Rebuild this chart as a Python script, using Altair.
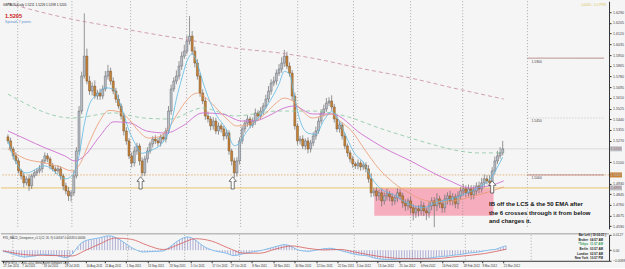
import json
import altair as alt
import pandas as pd

# ---------------- data (prices in 1/10000 units) ----------------
closes = [
    15268, 15204, 15149, 15109, 15030, 14990, 14935, 14967, 14911, 14990,
    15014, 15030, 15046, 15109, 15149, 15125, 15070, 15046, 15030, 15046,
    14990, 14911, 14871, 14832, 14856, 14990, 15188, 15505, 15783, 15941,
    15743, 15664, 15703, 15624, 15648, 15624, 15680, 15783, 15822, 15743,
    15664, 15600, 15545, 15466, 15347, 15268, 15149, 15093, 15188, 15228,
    15109, 15014, 15125, 15188, 15244, 15283, 15268, 15252, 15299, 15283,
    15347, 15505, 15680, 15743, 15783, 15862, 15941, 15981, 16060, 16100,
    15981, 15886, 15783, 15648, 15585, 15466, 15442, 15387, 15426, 15347,
    15387, 15363, 15307, 15331, 15188, 15109, 15014, 15109, 15268, 15363,
    15410, 15442, 15394, 15426, 15490, 15466, 15505, 15545, 15600, 15664,
    15727, 15743, 15806, 15838, 15886, 15941, 15862, 15806, 15624, 15387,
    15268, 15283, 15228, 15268, 15204, 15252, 15307, 15347, 15426, 15490,
    15521, 15569, 15585, 15537, 15442, 15363, 15394, 15307, 15228, 15173,
    15125, 15085, 15070, 15093, 15062, 15077, 15046, 14967, 14856, 14871,
    14832, 14856, 14792, 14832, 14848, 14824, 14792, 14816, 14856, 14832,
    14776, 14753, 14792, 14737, 14697, 14729, 14713, 14753, 14713, 14697,
    14753, 14792, 14753, 14808, 14769, 14737, 14808, 14832, 14792, 14824,
    14769, 14832, 14871, 14887, 14856, 14887, 14840, 14871, 14911, 14887,
    14935, 14967, 14951, 14935, 15030, 15109, 15149, 15173, 15205,
]
first_open = 15300
up_wick = [
    20, 25, 18, 30, 22, 15, 28, 20, 35, 18,
    25, 20, 30, 15, 28, 22, 18, 25, 20, 30,
    22, 18, 25, 30, 20, 45, 30, 40, 35, 340,
    60, 40, 30, 45, 25, 35, 30, 40, 50, 28,
    30, 25, 35, 20, 25, 30, 22, 28, 35, 25,
    20, 28, 25, 30, 18, 22, 30, 25, 20, 28,
    25, 40, 35, 30, 45, 40, 35, 50, 45, 160,
    40, 35, 30, 25, 30, 28, 35, 22, 30, 25,
    28, 20, 25, 30, 22, 18, 25, 30, 28, 22,
    25, 30, 20, 28, 35, 22, 30, 25, 35, 40,
    30, 35, 28, 40, 45, 50, 35, 30, 25, 28,
    22, 25, 30, 20, 28, 25, 30, 35, 28, 30,
    35, 40, 30, 45, 25, 30, 28, 22, 25, 20,
    22, 25, 18, 28, 20, 25, 22, 30, 45, 25,
    30, 25, 35, 28, 40, 22, 30, 25, 35, 28,
    25, 30, 22, 35, 28, 25, 30, 40, 28, 25,
    35, 28, 30, 45, 25, 30, 35, 28, 40, 30,
    25, 35, 30, 40, 28, 35, 30, 45, 28, 35,
    40, 35, 30, 45, 30, 35, 40, 45, 63,
]
down_wick = [
    22, 18, 30, 25, 20, 28, 35, 22, 40, 25,
    18, 25, 20, 30, 22, 25, 28, 20, 25, 22,
    30, 35, 28, 40, 45, 25, 20, 30, 25, 20,
    25, 30, 35, 22, 28, 30, 25, 20, 28, 30,
    25, 30, 22, 28, 35, 30, 25, 35, 28, 30,
    35, 28, 25, 30, 22, 28, 25, 30, 28, 22,
    28, 25, 30, 22, 25, 28, 30, 22, 25, 28,
    30, 35, 28, 30, 25, 30, 28, 35, 30, 25,
    30, 28, 35, 25, 30, 35, 40, 30, 28, 25,
    28, 30, 25, 22, 30, 28, 25, 30, 22, 25,
    28, 25, 30, 22, 28, 30, 25, 28, 35, 30,
    30, 28, 25, 30, 35, 28, 25, 30, 22, 25,
    28, 22, 25, 30, 28, 25, 30, 28, 25, 30,
    28, 30, 25, 28, 30, 25, 28, 30, 35, 30,
    40, 35, 45, 30, 38, 35, 40, 30, 35, 32,
    38, 40, 35, 45, 60, 40, 45, 38, 42, 58,
    40, 35, 170, 42, 35, 40, 38, 45, 35, 38,
    35, 40, 32, 38, 35, 30, 38, 35, 30, 35,
    30, 35, 28, 30, 25, 28, 25, 22, 20,
]

# moving averages (bar index, price)
ema_fast_bar = [0, 2, 7, 14, 22, 25, 27, 29, 31, 34, 37, 40, 42, 44, 46, 48, 51, 54, 59, 62,
                64, 66, 68, 70, 72, 74, 76, 79, 83, 86, 88, 90, 93, 96, 100, 103, 105, 107, 109, 111,
                114, 117, 120, 123, 126, 129, 132, 135, 138, 141, 147, 152, 158, 163, 169, 175, 179, 183, 186, 188]
ema_fast_val = [15268, 15149, 15014, 15070, 14967, 15010, 15150, 15400, 15560, 15640,
                15690, 15680, 15600, 15480, 15350, 15260, 15170, 15190, 15260, 15400,
                15600, 15760, 15900, 15960, 15880, 15740, 15620, 15480, 15360, 15230,
                15250, 15320, 15400, 15470, 15600, 15720, 15820, 15800, 15600, 15430,
                15330, 15320, 15430, 15500, 15420, 15280, 15160, 15100, 14980, 14900,
                14835, 14770, 14740, 14780, 14810, 14860, 14900, 14960, 15060, 15140]
ema_mid_bar = [0, 6.7, 14.2, 19.8, 24.3, 27.2, 31, 34.7, 38.4, 42.2, 45.9, 49.6, 53.4, 57.1, 60.8,
               64.6, 68.3, 72, 75.7, 79.5, 83.2, 86.9, 90.7, 94.4, 98.1, 101.9, 104.9, 108.2, 111.9,
               115.7, 119.4, 123.1, 126.1, 130.6, 135.4, 141, 146.6, 152.2, 157.8, 163.4, 169, 174.6,
               180.2, 184, 188.4]
ema_mid_val = [15204, 15125, 15093, 15062, 15030, 15080, 15260, 15420, 15510, 15500,
               15442, 15347, 15291, 15299, 15363, 15490, 15600, 15648, 15600, 15521,
               15442, 15387, 15394, 15426, 15490, 15569, 15608, 15585, 15505, 15450,
               15466, 15482, 15426, 15347, 15204, 15046, 14935, 14856, 14800, 14784,
               14792, 14816, 14848, 14871, 14903]
ema50_bar = [0, 6.7, 14.2, 21.6, 25.4, 29.1, 34.7, 40.3, 46.6, 52.6, 60.1, 66.4, 73.9, 81.3, 88.8,
             93.7, 98.9, 104.9, 108.6, 115.7, 123.1, 134.3, 142.9, 153, 161.6, 167.9, 175.4, 182.8, 188.4]
ema50_val = [15347, 15283, 15212, 15149, 15109, 15150, 15300, 15420, 15410, 15347,
             15331, 15387, 15490, 15482, 15426, 15426, 15466, 15529, 15545, 15482,
             15482, 15323, 15212, 15109, 15014, 14951, 14895, 14911, 14951]
ma100_bar = [0, 24.3, 40.3, 51.5, 61.6, 73.9, 86.2, 102.6, 115.7, 128, 141, 153, 163.4, 171.6, 178.4, 185.8, 188.4]
ma100_val = [15640, 15450, 15490, 15450, 15442, 15529, 15466, 15505, 15505, 15466,
             15371, 15291, 15228, 15188, 15173, 15173, 15180]
ma200_bar = [0, 14.2, 24.3, 36.6, 48.9, 69, 86.2, 103.7, 115.7, 133.6, 153, 170.9, 188.4]
ma200_val = [16361, 16282, 16234, 16187, 16139, 16068, 16005, 15965, 15925, 15846, 15767, 15680, 15600]

# MACD (1/10000 units)
macd_hist = [
    -10, -15, -20, -28, -35, -42, -50, -52, -58, -55, -52, -50, -48, -42, -36, -34, -36, -38, -40, -40,
    -44, -50, -56, -62, -63,
    -50, -30, 0, 30, 55, 70, 80, 86, 90, 94, 98, 102, 108, 114, 118, 118, 114, 106, 95, 82, 68, 52, 36, 22, 10, 0,
    -10, -15, -14, -14, -12, -11, -10, -10, -8, -6,
    5, 20, 38, 55, 72, 86, 98, 106, 110, 106, 96, 82, 66, 48, 32,
    20, 10, 2, -5, -10, -14, -18, -22, -30, -38, -45, -44, -40, -34, -28,
    -24, -20, -16, -12, -8, -4, 0, 6, 12, 18,
    24, 30, 36, 42, 46, 44, 38, 28, 16, 5,
    -2, -6, -8, -10, -8, -4, 0, 4, 8, 12, 14, 16, 14, 10, 4,
    -2, -8, -14, -20, -26, -32, -36, -40, -42, -44, -46, -52, -60, -66, -70,
    -74, -76, -78, -78, -78, -77, -76, -74, -72, -72, -72, -72, -71, -72, -72, -72, -70, -68, -66, -64,
    -60, -58, -55, -52, -50, -50, -46, -43, -40, -38, -36, -32, -28, -24, -22, -20, -18, -14, -10, -6,
    -2, 2, 4, 6, 14, 22, 30, 36,
]
signal_bar = [0, 10, 20, 26, 30, 36, 42, 48, 54, 60, 66, 72, 78, 84, 90, 96, 102, 108, 114, 120,
              126, 132, 140, 150, 160, 170, 180, 188]
signal_val = [-5, -40, -45, -48, -10, 50, 100, 90, 40, 5, 50, 95, 75, 20, -25, -25, 10, 35, 15, 2,
              6, -18, -50, -70, -72, -52, -28, 8]

# annotations / levels
month_sep_bars = [3.7, 24.3, 46.6, 67.9, 88.4, 110.1, 131.3, 153.0, 172.8, 197.4]
arrow_bars = [50.4, 85.4, 184.0]
arrow_prices = [14935, 14935, 14903]
zone_bar = [139.2, 184.5]
zone_price = [14895, 14673]
full_lines = [14998, 14895]
round_levels = [15925, 15450, 14998]
round_labels = ["1.5900", "1.5450", "1.5000"]
price_ticks = [1.6290, 1.6205, 1.6120, 1.6035, 1.5950, 1.5865, 1.5780, 1.5695, 1.5610, 1.5525,
               1.5440, 1.5355, 1.5270, 1.5100, 1.4930, 1.4845, 1.4760, 1.4675, 1.4590]
macd_ticks = [0.0127, 0.0, -0.0088]
date_bars = [0, 7, 15, 23, 31, 38, 46, 54, 62, 70, 78, 85, 93, 101, 109, 117, 125, 132, 140, 148,
             156, 164, 172, 179, 187]
date_labels = ["27 Jun 2011", "7 Jul 2011", "19 Jul 2011", "29 Jul 2011", "10 Aug 2011", "22 Aug 2011",
               "1 Sep 2011", "13 Sep 2011", "23 Sep 2011", "5 Oct 2011", "17 Oct 2011", "27 Oct 2011",
               "8 Nov 2011", "18 Nov 2011", "30 Nov 2011", "12 Dec 2011", "22 Dec 2011", "3 Jan 2012",
               "13 Jan 2012", "25 Jan 2012", "6 Feb 2012", "16 Feb 2012", "28 Feb 2012", "9 Mar 2012",
               "21 Mar 2012"]
note_lines = ["IB off the LCS & the 50 EMA after", "the 6 crosses through it from below", "and charges it."]
note_prices = [14769, 14697, 14634]
clock_names = ["Broker", "*Tokyo", "Berlin", "London", "New York"]
clock_times = ["04:57 AM", "11:57 AM", "03:57 AM", "02:57 AM", "10:57 PM"]

# ---------------- frames ----------------
P = 10000.0
opens = [first_open] + closes[:-1]
cdf = pd.DataFrame({
    "bar": list(range(len(closes))),
    "open": [o / P for o in opens],
    "close": [c / P for c in closes],
    "high": [(max(o, c) + u) / P for o, c, u in zip(opens, closes, up_wick)],
    "low": [(min(o, c) - d) / P for o, c, d in zip(opens, closes, down_wick)],
    "dir": ["up" if c >= o else "down" for o, c in zip(opens, closes)],
})

def line_df(b, v):
    return pd.DataFrame({"bar": b, "p": [x / P for x in v]})

W, HP, HM = 609, 228, 26
XMAX = 226.5
xs = alt.Scale(domain=[-0.75, XMAX], nice=False, zero=False)
ys = alt.Scale(domain=[1.4570, 1.6377], nice=False, zero=False)

price_axis = alt.Axis(orient="right", values=price_ticks, format=".4f", title=None, labelFontSize=3.6,
                      labelColor="#444", tickSize=2, tickColor="#333", domainColor="#333",
                      labelPadding=1.5, labelOverlap=False, grid=False, labelFlush=False)

X = lambda f: alt.X(f, type="quantitative", scale=xs, axis=None, title=None)
Y = lambda f: alt.Y(f, type="quantitative", scale=ys, axis=price_axis, title=None)

zone = alt.Chart(pd.DataFrame({"b1": [zone_bar[0]], "b2": [zone_bar[1]],
                               "p1": [zone_price[0] / P], "p2": [zone_price[1] / P]})).mark_rect(
    color="#f6a6b8", opacity=0.9).encode(x=X("b1"), x2="b2", y=Y("p1"), y2="p2")

seps = alt.Chart(pd.DataFrame({"bar": month_sep_bars})).mark_rule(
    color="#8a8a8a", strokeWidth=0.7, strokeDash=[1, 2]).encode(x=X("bar"))

hline1 = alt.Chart(pd.DataFrame({"p": [full_lines[0] / P]})).mark_rule(
    color="#e3a45a", strokeWidth=0.8, strokeDash=[1.5, 1.5]).encode(y=Y("p"))
hline2 = alt.Chart(pd.DataFrame({"p": [full_lines[1] / P]})).mark_rule(
    color="#e9c46a", strokeWidth=1).encode(y=Y("p"))
cur_line = alt.Chart(pd.DataFrame({"p": [closes[-1] / P]})).mark_rule(
    color="#c8c8c8", strokeWidth=0.6).encode(y=Y("p"))

rl = pd.DataFrame({"b1": [month_sep_bars[-1]] * 3, "b2": [XMAX] * 3,
                   "p": [v / P for v in round_levels], "lab": round_labels, "kind": ["a", "b", "a"]})
round_rules = alt.Chart(rl).mark_rule(strokeWidth=0.8).encode(
    x=X("b1"), x2="b2", y=Y("p"),
    color=alt.Color("kind:N", scale=alt.Scale(domain=["a", "b"], range=["#a86a6a", "#b8b8b8"]), legend=None),
    strokeDash=alt.StrokeDash("kind:N", scale=alt.Scale(domain=["a", "b"], range=[[1, 0], [1, 2]]), legend=None))
round_text = alt.Chart(rl).mark_text(fontSize=3.4, color="#444", align="left", baseline="top", dy=1.5, dx=4).encode(
    x=X("b1"), y=Y("p"), text="lab:N")

wick = alt.Chart(cdf).mark_rule(color="#6a6a6a", strokeWidth=0.7).encode(x=X("bar"), y=Y("low"), y2="high")
body = alt.Chart(cdf).mark_bar(size=2.0, strokeWidth=0.45).encode(
    x=X("bar"), y=Y("open"), y2="close",
    fill=alt.Fill("dir:N", scale=alt.Scale(domain=["up", "down"], range=["#bcc0c7", "#c8843a"]), legend=None),
    stroke=alt.Stroke("dir:N", scale=alt.Scale(domain=["up", "down"], range=["#555a62", "#6e4a22"]), legend=None))

def ma(b, v, color, dash=None, w=0.8):
    kw = dict(color=color, strokeWidth=w, interpolate="monotone")
    if dash:
        kw["strokeDash"] = dash
    return alt.Chart(line_df(b, v)).mark_line(**kw).encode(x=X("bar"), y=Y("p"))

l200 = ma(ma200_bar, ma200_val, "#c9899c", [4, 3])
l100 = ma(ma100_bar, ma100_val, "#86c6a0", [4, 3])
l50 = ma(ema50_bar, ema50_val, "#cf6fd0", None, 0.9)
lmid = ma(ema_mid_bar, ema_mid_val, "#eb9870")
lfast = ma(ema_fast_bar, ema_fast_val, "#5db9e3")

arrow_path = "M0,-1L0.6,-0.25L0.25,-0.25L0.25,1L-0.25,1L-0.25,-0.25L-0.6,-0.25Z"
arrows = alt.Chart(pd.DataFrame({"bar": arrow_bars, "p": [a / P for a in arrow_prices]})).mark_point(
    shape=arrow_path, size=150, filled=True, fill="white", stroke="#222", strokeWidth=0.6, opacity=1).encode(
    x=X("bar"), y=Y("p"))

note = alt.Chart(pd.DataFrame({"bar": [182.8] * 3, "p": [n / P for n in note_prices], "t": note_lines})).mark_text(
    align="left", baseline="middle", fontSize=6, fontWeight="bold",
    font="Liberation Sans Narrow, Liberation Sans", color="#111").encode(x=X("bar"), y=Y("p"), text="t:N")

TAGX = W + 7
tags = pd.DataFrame({"p": [closes[-1] / P, full_lines[0] / P, full_lines[1] / P],
                     "t": ["1.5205", "1.5000", "1.4895"], "k": ["c", "o", "y"]})
tag_box = alt.Chart(tags).mark_point(shape="M-1,-0.42H1V0.42H-1Z", size=144, filled=True, opacity=1).encode(
    x=alt.value(TAGX), y=Y("p"),
    fill=alt.Fill("k:N", scale=alt.Scale(domain=["c", "o", "y"], range=["#111", "#e8b04a", "#e9cc6e"]), legend=None))
tag_txt = alt.Chart(tags).mark_text(fontSize=3.6, align="center", baseline="middle").encode(
    x=alt.value(TAGX), y=Y("p"), text="t:N",
    color=alt.Color("k:N", scale=alt.Scale(domain=["c", "o", "y"], range=["#fff", "#333", "#333"]), legend=None))

def label(txt, x, y, size, color, weight="normal", align="left"):
    return alt.Chart(pd.DataFrame({"t": [txt]})).mark_text(
        fontSize=size, color=color, fontWeight=weight, align=align, baseline="middle",
        font="Liberation Sans").encode(x=alt.value(x), y=alt.value(y), text="t:N")

t_title = label("GBPAUD,Daily  1.5211 1.5226 1.5198 1.5205", 2, 4, 3.2, "#222")
t_price = label("1.5205", 4, 15, 5.6, "#cc2020", "bold")
t_spread = label("Spread: 7 points", 4, 20.5, 3.6, "#5b8fd0")
t_pips = label("-0.0005 / -5.0 PIPS", 606, 4, 3.0, "#d9c65a", align="right")

price = alt.layer(zone, seps, cur_line, hline1, hline2, round_rules, round_text, wick, body,
                  l200, l100, l50, lmid, lfast, arrows, note, tag_box, tag_txt,
                  t_title, t_price, t_spread, t_pips).properties(width=W, height=HP)

# ---------------- MACD panel ----------------
mdf = pd.DataFrame({"bar": list(range(len(macd_hist))), "m": [v / P for v in macd_hist], "z": 0.0})
ms = alt.Scale(domain=[-0.0088, 0.0127], nice=False, zero=False)
date_expr = f"{json.dumps(date_labels)}[indexof({json.dumps(date_bars)}, datum.value)]"
x_axis = alt.Axis(values=date_bars, labelExpr=date_expr, labelAlign="left", labelFontSize=2.9,
                  labelColor="#333", tickSize=2, tickColor="#333", domainColor="#333", labelPadding=2,
                  labelOverlap=False, grid=False, title=None, labelFlush=False)
m_axis = alt.Axis(orient="right", values=macd_ticks,
                  labelExpr="datum.value == 0 ? '0.00' : format(datum.value, '.4f')",
                  labelFontSize=3.3, labelColor="#444", tickSize=2, tickColor="#333", domainColor="#333",
                  labelPadding=1.5, labelOverlap=False, grid=False, title=None, labelFlush=False)
MX = lambda f: alt.X(f, type="quantitative", scale=xs, axis=x_axis, title=None)
MY = lambda f: alt.Y(f, type="quantitative", scale=ms, axis=m_axis, title=None)

hist = alt.Chart(mdf).mark_rule(color="#7d7dbf", strokeWidth=0.6).encode(x=MX("bar"), y=MY("m"), y2="z")
blue = alt.Chart(mdf).mark_line(color="#6ab3ea", strokeWidth=0.8).encode(x=MX("bar"), y=MY("m"))
sdf = pd.DataFrame({"bar": signal_bar, "m": [v / P for v in signal_val]})
red = alt.Chart(sdf).mark_line(color="#d85a5a", strokeWidth=0.8, interpolate="monotone").encode(
    x=MX("bar"), y=MY("m"))
mseps = alt.Chart(pd.DataFrame({"bar": month_sep_bars})).mark_rule(
    color="#8a8a8a", strokeWidth=0.7, strokeDash=[1, 2]).encode(x=MX("bar"))
top_rule = alt.Chart(pd.DataFrame({"a": [0]})).mark_rule(color="#888", strokeWidth=0.8).encode(
    x=alt.value(0), x2=alt.value(W), y=alt.value(-1))

m_label = label("FX5_MACD_Divergence_v1.1(12, 26, 9)  0.00567  0.00533  0.00034", 2, 3, 2.8, "#333")
m_copy = label("FxPro MT4, \u00a9 2001-2012 MetaQuotes Software Corp.", 2, 28.5, 2.8, "#333")
clock_top = label("Bar Left | 19:02:21 |", 606, 0.5, 3.0, "#222", "bold", "right")
clocks = []
for i, (n, t) in enumerate(zip(clock_names, clock_times)):
    col = "#2f9a55" if n.startswith("*") else "#222"
    clocks.append(label(n, 588, 5 + 4.6 * i, 3.0, col, "bold", "right"))
    clocks.append(label(t, 590, 5 + 4.6 * i, 3.0, col, "bold", "left"))

macd = alt.layer(hist, mseps, blue, red, top_rule, m_label, m_copy, clock_top, *clocks).properties(
    width=W, height=HM)

chart = alt.vconcat(price, macd, spacing=3, padding=0, background="#f5f5f5").configure_view(
    stroke=None).configure_axis(labelFont="Liberation Sans")

chart.save("out.html", embed_options={"renderer": "svg", "actions": False})
